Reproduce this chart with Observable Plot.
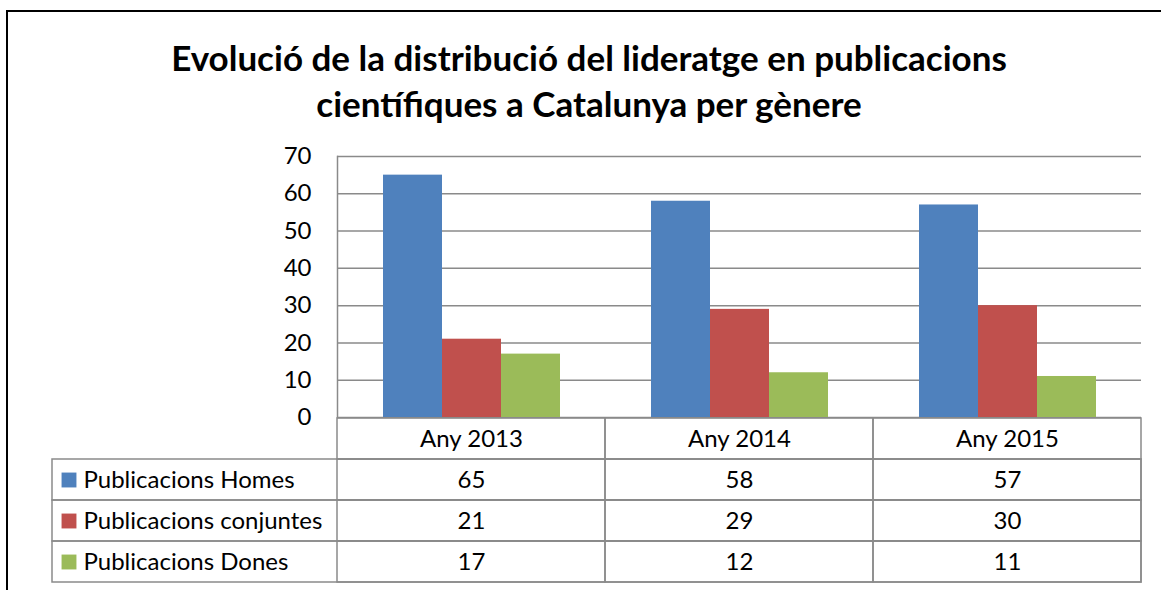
<!DOCTYPE html>
<html>
<head>
<meta charset="utf-8">
<script src="https://cdn.jsdelivr.net/npm/d3@7"></script>
<script src="https://cdn.jsdelivr.net/npm/@observablehq/plot@0.6"></script>
<style>
  html, body { margin: 0; padding: 0; background: #fff; }
  #wrap { position: relative; width: 1161px; height: 590px; overflow: hidden; font-family: Lato, "Open Sans", sans-serif; }
  #border { position: absolute; left: 6px; top: 10px; width: 1300px; height: 700px; border: 2px solid #000; box-sizing: border-box; }
  #title { position: absolute; left: 0; top: 0; width: 1178px; text-align: center; font-weight: bold; font-size: 35px; line-height: 46px; padding-top: 34px; color: #000; }
  #chart { position: absolute; left: 0; top: 130px; }
  #table { position: absolute; left: 0; top: 410px; }
  svg { overflow: visible; }
</style>
</head>
<body>
<div id="wrap">
  <div id="border"></div>
  <div id="title">Evolució de la distribució del lideratge en publicacions<br>científiques a Catalunya per gènere</div>
  <div id="chart"></div>
  <div id="table"></div>
</div>
<script>
const years = ["Any 2013", "Any 2014", "Any 2015"];
const series = ["Publicacions Homes", "Publicacions conjuntes", "Publicacions Dones"];
const homes = [65, 58, 57];
const conjuntes = [21, 29, 30];
const dones = [17, 12, 11];
const yTicks = [0, 10, 20, 30, 40, 50, 60, 70];
const colors = ["#4F81BD", "#C0504D", "#9BBB59"];

const valuesBySeries = [homes, conjuntes, dones];
const rows = [];
series.forEach((s, si) => years.forEach((y, yi) => rows.push({year: y, series: s, value: valuesBySeries[si][yi]})));

const gridColor = "#8a8a8a";
const font = "Lato, 'Open Sans', sans-serif";

const chart = Plot.plot({
  width: 1161,
  height: 290,
  marginTop: 26,
  marginBottom: 3,
  marginLeft: 336,
  marginRight: 20,
  style: {fontFamily: font, fontSize: "24px", color: "#000", background: "transparent", overflow: "visible"},
  fx: {domain: years, padding: 0, axis: null},
  x: {domain: series, paddingInner: 0, paddingOuter: 0.736, axis: null},
  y: {domain: [0, 70], ticks: yTicks, tickSize: 0, tickPadding: 26, label: null},
  color: {domain: series, range: colors},
  marks: [
    Plot.ruleY(yTicks, {stroke: gridColor, strokeWidth: 1.5, strokeOpacity: 1}),
    Plot.frame({anchor: "left", stroke: gridColor, strokeWidth: 1.5, strokeOpacity: 1, fx: () => years[0]}),
    Plot.barY(rows, {fx: "year", x: "series", y: "value", fill: "series"})
  ]
});
document.getElementById("chart").appendChild(chart);

const tableCells = [];
["", ...series].forEach(r => years.forEach(y => tableCells.push({year: y, row: r})));

const table = Plot.plot({
  width: 1161,
  height: 180,
  marginTop: 7,
  marginBottom: 7,
  marginLeft: 336,
  marginRight: 20,
  style: {fontFamily: font, fontSize: "24px", color: "#000", background: "transparent", overflow: "visible"},
  x: {domain: years, padding: 0, axis: null},
  y: {domain: ["", ...series], padding: 0, axis: null},
  color: {domain: series, range: colors},
  marks: [
    Plot.cell(series, {y: d => d, fill: "none", stroke: gridColor, strokeWidth: 1.5, insetLeft: -284}),
    Plot.cell(tableCells, {x: "year", y: "row", fill: "none", stroke: gridColor, strokeWidth: 1.5}),
    Plot.text(years, {x: d => d, y: () => "", text: d => d, fill: "#000"}),
    Plot.text(rows, {x: "year", y: "series", text: d => String(d.value), fill: "#000"}),
    Plot.dot(series, {y: d => d, frameAnchor: "left", dx: -267.5, symbol: "square", r: 8.4, fill: d => d, stroke: null}),
    Plot.text(series, {y: d => d, text: d => d, frameAnchor: "left", textAnchor: "start", dx: -253, fill: "#000"})
  ]
});
document.getElementById("table").appendChild(table);
</script>
</body>
</html>
